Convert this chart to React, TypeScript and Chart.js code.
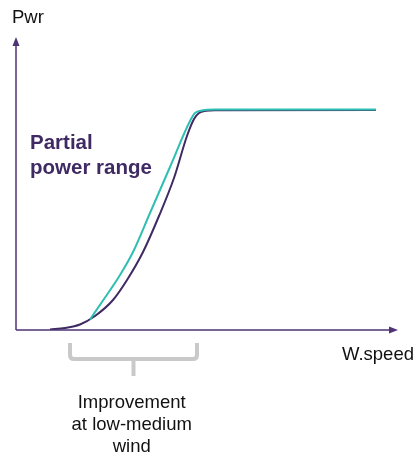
import React, { useEffect, useRef } from "react";
import { Chart, registerables } from "chart.js";

Chart.register(...registerables);

const currentX = [8.9, 12.83, 16.75, 20.68, 25.39, 29.06, 33.25, 37.43, 41.36, 44.76, 46.6, 47.91, 49.74, 52.09, 94.24];
const currentY = [0.2, 0.69, 1.9, 4.83, 10.34, 17.24, 26.9, 39.31, 52.41, 66.9, 72.76, 74.83, 75.59, 75.79, 75.86];
const improvedX = [19.37, 23.04, 27.23, 30.63, 35.08, 40.31, 45.55, 46.86, 48.69, 52.09, 94.24];
const improvedY = [3.62, 10.69, 18.97, 26.9, 40.34, 56.21, 72.07, 74.83, 75.69, 76.03, 76.03];

const yAxisLabel = "Pwr";
const xAxisLabel = "W.speed";
const regionLabel = ["Partial", "power range"];
const bracketLabel = ["Improvement", "at low-medium", "wind"];

const PURPLE = "#3f2a63";
const AXIS = "#4e3475";
const TEAL = "#2fbfb2";

const overlay = {
  id: "overlay",
  afterDraw(chart: any) {
    const ctx = chart.ctx as CanvasRenderingContext2D;
    const a = chart.chartArea;
    ctx.save();
    // axes
    ctx.strokeStyle = AXIS;
    ctx.fillStyle = AXIS;
    ctx.lineWidth = 1.5;
    ctx.beginPath();
    ctx.moveTo(a.left, a.bottom);
    ctx.lineTo(a.left, a.top + 4);
    ctx.moveTo(a.left, a.bottom);
    ctx.lineTo(a.right - 4, a.bottom);
    ctx.stroke();
    ctx.beginPath();
    ctx.moveTo(a.left, a.top - 3);
    ctx.lineTo(a.left - 3.5, a.top + 6);
    ctx.lineTo(a.left + 3.5, a.top + 6);
    ctx.closePath();
    ctx.fill();
    ctx.beginPath();
    ctx.moveTo(a.right, a.bottom);
    ctx.lineTo(a.right - 9, a.bottom - 3.5);
    ctx.lineTo(a.right - 9, a.bottom + 3.5);
    ctx.closePath();
    ctx.fill();

    // labels
    ctx.fillStyle = "#111";
    ctx.font = "18.5px 'Liberation Sans', Arial, sans-serif";
    ctx.textAlign = "left";
    ctx.textBaseline = "alphabetic";
    ctx.fillText(yAxisLabel, 12, 23);
    ctx.fillText(xAxisLabel, 342, 360);

    ctx.fillStyle = PURPLE;
    ctx.font = "bold 20.5px 'Liberation Sans', Arial, sans-serif";
    ctx.fillText(regionLabel[0], 30, 149);
    ctx.fillText(regionLabel[1], 30, 173.5);

    // bracket
    ctx.strokeStyle = "#c9c9c9";
    ctx.lineWidth = 4;
    ctx.lineJoin = "round";
    ctx.lineCap = "butt";
    ctx.beginPath();
    ctx.moveTo(70, 343);
    ctx.lineTo(70, 355);
    ctx.quadraticCurveTo(70, 359, 74, 359);
    ctx.lineTo(193, 359);
    ctx.quadraticCurveTo(197, 359, 197, 355);
    ctx.lineTo(197, 343);
    ctx.moveTo(133.5, 359);
    ctx.lineTo(133.5, 376);
    ctx.stroke();

    ctx.fillStyle = "#111";
    ctx.font = "18.5px 'Liberation Sans', Arial, sans-serif";
    ctx.textAlign = "center";
    ctx.fillText(bracketLabel[0], 131.7, 408);
    ctx.fillText(bracketLabel[1], 131.7, 430);
    ctx.fillText(bracketLabel[2], 131.7, 451.5);
    ctx.restore();
  },
};

export default function App() {
  const ref = useRef<HTMLCanvasElement>(null);
  useEffect(() => {
    if (!ref.current) return;
    const chart = new Chart(ref.current, {
      type: "line",
      data: {
        datasets: [
          {
            label: "improved",
            data: improvedX.map((x, i) => ({ x, y: improvedY[i] })),
            borderColor: TEAL,
            borderWidth: 2,
            pointRadius: 0,
            cubicInterpolationMode: "monotone",
            fill: false,
          },
          {
            label: "current",
            data: currentX.map((x, i) => ({ x, y: currentY[i] })),
            borderColor: PURPLE,
            borderWidth: 2,
            pointRadius: 0,
            cubicInterpolationMode: "monotone",
            fill: false,
          },
        ],
      },
      options: {
        animation: false,
        responsive: false,
        maintainAspectRatio: false,
        layout: { padding: { left: 16, right: 20, top: 40, bottom: 125 } },
        plugins: { legend: { display: false }, tooltip: { enabled: false } },
        scales: {
          x: { type: "linear", min: 0, max: 100, display: false },
          y: { type: "linear", min: 0, max: 100, display: false },
        },
      },
      plugins: [overlay],
    });
    return () => chart.destroy();
  }, []);
  return (
    <div style={{ position: "fixed", left: 0, top: 0, width: 418, height: 455, background: "#fff" }}>
      <canvas ref={ref} width={418} height={455} style={{ display: "block" }} />
    </div>
  );
}
